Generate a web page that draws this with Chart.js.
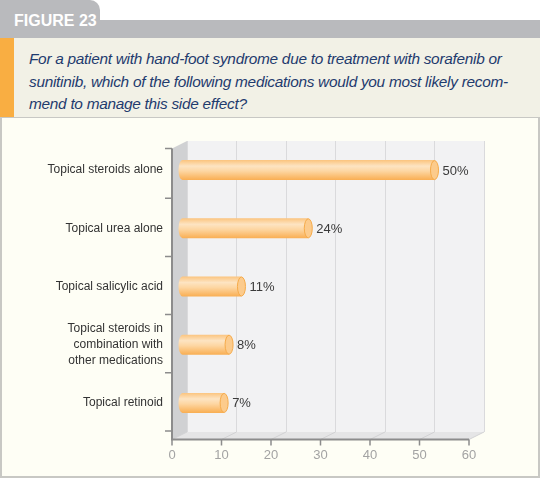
<!DOCTYPE html>
<html lang="en">
<head>
  <meta charset="UTF-8" />
  <title>Figure 23</title>
  <script src="https://cdn.jsdelivr.net/npm/chart.js"></script>
  <style>
    html, body {
      margin: 0;
      padding: 0;
      background: #ffffff;
    }
    .page {
      position: relative;
      width: 540px;
      height: 478px;
      overflow: hidden;
      font-family: "Liberation Sans", Arial, sans-serif;
    }
    .tab {
      position: absolute;
      left: 0; top: 0;
      width: 100px; height: 30px;
      background: #b9babd;
      border-top-right-radius: 10px;
      color: #ffffff;
      font-weight: bold;
      font-size: 16px;
      line-height: 18px;
      padding: 12px 0 0 14px;
      box-sizing: border-box;
    }
    .band {
      position: absolute;
      left: 0; top: 20px;
      width: 540px; height: 18px;
      background: #b9babd;
    }
    .question {
      position: absolute;
      left: 0; top: 38px;
      width: 540px; height: 80px;
      background: #f2f1e6;
      border-bottom: 1px solid #c8c8c4;
      box-sizing: border-box;
    }
    .question .bar {
      position: absolute;
      left: 0; top: 0;
      width: 14px; height: 79px;
      background: #f9ae42;
    }
    .question p {
      position: absolute;
      left: 29px; top: 10px;
      margin: 0;
      white-space: nowrap;
      font-style: italic;
      font-size: 15.4px;
      letter-spacing: -0.28px;
      line-height: 22.5px;
      color: #1f3b6e;
    }
    .panel {
      position: absolute;
      left: 0; top: 118px;
      width: 540px; height: 360px;
      background: #fefef5;
      border-left: 2px solid #c8c8c4;
      border-right: 2px solid #c8c8c4;
      border-bottom: 2px solid #c8c8c4;
      box-sizing: border-box;
    }
    .chart-box {
      position: absolute;
      left: 0; top: 119px;
      width: 540px; height: 357px;
    }
  </style>
</head>
<body>
  <div class="page">
    <div class="band"></div>
    <div class="tab">FIGURE 23</div>
    <div class="question">
      <div class="bar"></div>
      <p>For a patient with hand-foot syndrome due to treatment with sorafenib or<br>sunitinib, which of the following medications would you most likely recom-<br>mend to manage this side effect?</p>
    </div>
    <div class="panel"></div>
    <div class="chart-box">
      <canvas id="chart" width="540" height="357"></canvas>
    </div>
  </div>

  <script>
    const categories = [
      'Topical steroids alone',
      'Topical urea alone',
      'Topical salicylic acid',
      ['Topical steroids in', 'combination with', 'other medications'],
      'Topical retinoid'
    ];
    const percents = [50, 24, 11, 8, 7];
    // where the bars actually end on the axis (slightly past the rounded value)
    const barValues = [50, 24.5, 11, 8.5, 7.5];
    const xTicks = [0, 10, 20, 30, 40, 50, 60];

    const DX = -15, DY = 7.5; // front plane offset from back wall

    const cube = {
      id: 'cube',
      beforeDraw(chart) {
        const { ctx, chartArea: a } = chart;
        ctx.save();
        ctx.fillStyle = '#f2f2f3';
        ctx.fillRect(a.left, a.top, a.right - a.left, a.bottom - a.top);
        ctx.restore();
      },
      beforeDatasetsDraw(chart) {
        const { ctx, chartArea: a, scales } = chart;
        const x = scales.x;
        ctx.save();
        // floor
        ctx.fillStyle = '#e5e5e6';
        ctx.beginPath();
        ctx.moveTo(a.left + DX, a.bottom + DY);
        ctx.lineTo(a.left, a.bottom);
        ctx.lineTo(a.right, a.bottom);
        ctx.lineTo(a.right + DX, a.bottom + DY);
        ctx.closePath();
        ctx.fill();
        ctx.strokeStyle = '#d2d2d4';
        ctx.lineWidth = 1;
        xTicks.forEach(v => {
          const px = x.getPixelForValue(v);
          ctx.beginPath();
          ctx.moveTo(px + DX, a.bottom + DY);
          ctx.lineTo(px, a.bottom);
          ctx.stroke();
        });
        // side wall
        ctx.fillStyle = '#d0d1d3';
        ctx.beginPath();
        ctx.moveTo(a.left + DX, a.top + DY);
        ctx.lineTo(a.left, a.top);
        ctx.lineTo(a.left, a.bottom);
        ctx.lineTo(a.left + DX, a.bottom + DY);
        ctx.closePath();
        ctx.fill();
        ctx.restore();
      },
      afterDatasetsDraw(chart) {
        const { ctx, chartArea: a, scales } = chart;
        const meta = chart.getDatasetMeta(0);
        ctx.save();
        meta.data.forEach((bar, i) => {
          const h = bar.height;
          const top = bar.y - h / 2;
          const left = bar.base - 9;
          const right = bar.x;
          const rx = 4;
          const g = ctx.createLinearGradient(0, top, 0, top + h);
          g.addColorStop(0, '#fbc47e');
          g.addColorStop(0.3, '#fde4c2');
          g.addColorStop(0.55, '#fdd6a2');
          g.addColorStop(1, '#f9ae52');
          ctx.fillStyle = g;
          ctx.beginPath();
          ctx.ellipse(left + rx, bar.y, rx, h / 2, 0, Math.PI / 2, Math.PI * 1.5);
          ctx.lineTo(right, top);
          ctx.lineTo(right, top + h);
          ctx.closePath();
          ctx.fill();
          // end cap
          ctx.fillStyle = '#fccb8c';
          ctx.strokeStyle = '#f6ab4a';
          ctx.lineWidth = 1;
          ctx.beginPath();
          ctx.ellipse(right, bar.y, rx, h / 2 - 0.5, 0, 0, Math.PI * 2);
          ctx.fill();
          ctx.stroke();
          // value label
          ctx.fillStyle = '#3a3a3a';
          ctx.font = '13px "Liberation Sans", Arial, sans-serif';
          ctx.textBaseline = 'middle';
          ctx.textAlign = 'left';
          ctx.fillText(percents[i] + '%', right + 8, bar.y + 1);
        });

        // front axes
        const x = scales.x;
        ctx.strokeStyle = '#8c8c8c';
        ctx.lineWidth = 2;
        ctx.beginPath();
        ctx.moveTo(a.left + DX, a.top + DY);
        ctx.lineTo(a.left + DX, a.bottom + DY);
        ctx.lineTo(x.getPixelForValue(60) + DX, a.bottom + DY);
        ctx.stroke();
        ctx.lineWidth = 1.5;
        ctx.beginPath();
        const step = (a.bottom - a.top) / categories.length;
        for (let k = 0; k <= categories.length; k++) {
          const ty = k === 0 ? a.top + DY : a.top + k * step - 1;
          ctx.moveTo(a.left + DX - 7, ty);
          ctx.lineTo(a.left + DX, ty);
        }
        xTicks.forEach(v => {
          const px = x.getPixelForValue(v) + DX;
          ctx.moveTo(px, a.bottom + DY);
          ctx.lineTo(px, a.bottom + DY + 6);
        });
        ctx.stroke();
        ctx.restore();
      }
    };

    new Chart(document.getElementById('chart'), {
      type: 'bar',
      data: {
        labels: categories,
        datasets: [{
          data: barValues,
          backgroundColor: 'rgba(0,0,0,0)',
          barThickness: 20
        }]
      },
      options: {
        indexAxis: 'y',
        responsive: false,
        animation: false,
        layout: { padding: { top: 22, right: 56, bottom: 0, left: 0 } },
        plugins: {
          legend: { display: false },
          tooltip: { enabled: false }
        },
        scales: {
          x: {
            min: 0,
            max: 60,
            afterFit: s => { s.height = 44; s.paddingLeft = 0; s.paddingRight = 0; },
            afterBuildTicks: s => { s.ticks = xTicks.map(v => ({ value: v })); },
            grid: { color: '#dadadc', lineWidth: 1, drawTicks: false },
            border: { display: false },
            ticks: {
              color: '#a3a3a3',
              font: { family: '"Liberation Sans", Arial, sans-serif', size: 13 },
              labelOffset: DX,
              padding: 16
            }
          },
          y: {
            afterFit: s => { s.width = 187; s.paddingTop = 0; s.paddingBottom = 0; },
            grid: { display: false, drawTicks: false },
            border: { display: false },
            ticks: {
              color: '#333333',
              font: { family: '"Liberation Sans", Arial, sans-serif', size: 12, lineHeight: 1.3 },
              padding: 24
            }
          }
        }
      },
      plugins: [cube]
    });
  </script>
</body>
</html>
